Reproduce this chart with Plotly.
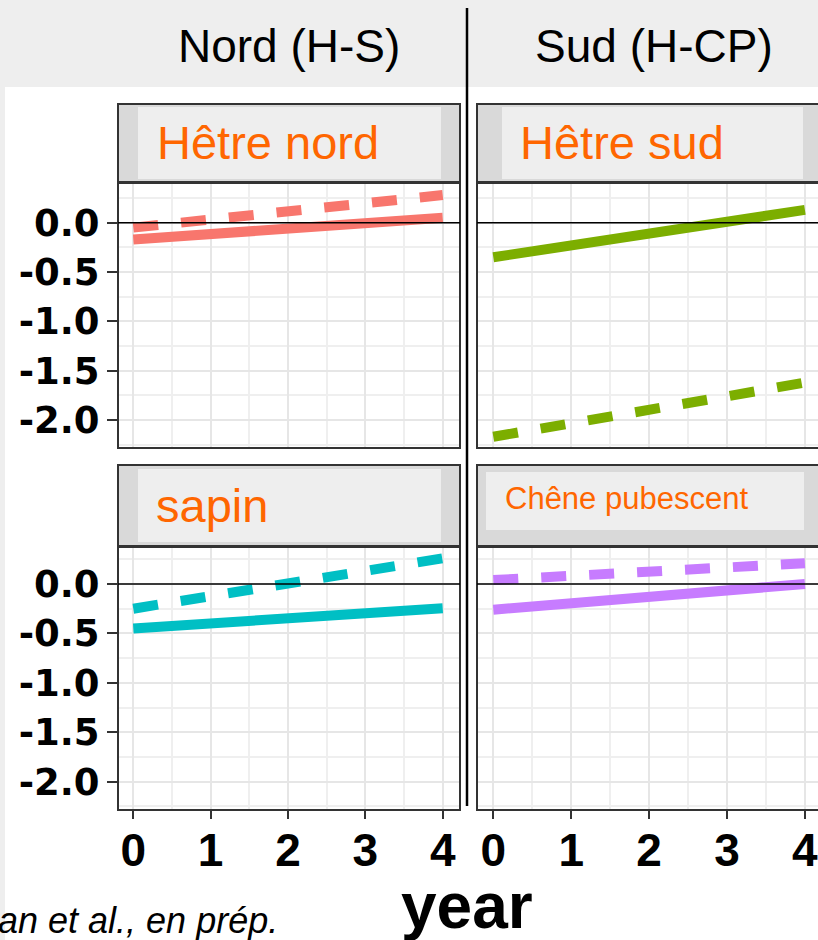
import plotly.graph_objects as go

# ---------------- data ----------------
years = [0, 1, 2, 3, 4]
hetre_nord_solid = [-0.17, -0.11, -0.06, 0.00, 0.05]
hetre_nord_dashed = [-0.05, 0.03, 0.11, 0.20, 0.28]
hetre_sud_solid = [-0.35, -0.23, -0.11, 0.01, 0.13]
hetre_sud_dashed = [-2.17, -2.04, -1.90, -1.76, -1.62]
sapin_solid = [-0.45, -0.40, -0.34, -0.29, -0.245]
sapin_dashed = [-0.25, -0.12, 0.00, 0.13, 0.26]
chene_solid = [-0.26, -0.195, -0.13, -0.065, 0.00]
chene_dashed = [0.04, 0.08, 0.12, 0.16, 0.21]

y_tickvals = [-2.0, -1.5, -1.0, -0.5, 0.0]
y_ticktext = ["-2.0", "-1.5", "-1.0", "-0.5", "0.0"]
x_tickvals = [0, 1, 2, 3, 4]
x_ticktext = ["0", "1", "2", "3", "4"]

panel_titles = ["Hêtre nord", "Hêtre sud", "sapin", "Chêne pubescent"]
group_titles = ["Nord (H-S)", "Sud (H-CP)"]
x_title = "year"
credit = "an et al., en prép."

colors = ["#F8766D", "#7CAE00", "#00BFC4", "#C77CFF"]

# ---------------- geometry helpers ----------------
W, H = 818, 940


def X(px):
    return px / W


def Y(py):
    return 1 - py / H


fig = go.Figure()

panels = [
    ("x", "y", hetre_nord_solid, hetre_nord_dashed, colors[0]),
    ("x2", "y2", hetre_sud_solid, hetre_sud_dashed, colors[1]),
    ("x3", "y3", sapin_solid, sapin_dashed, colors[2]),
    ("x4", "y4", chene_solid, chene_dashed, colors[3]),
]
for xa, ya, solid, dashed, col in panels:
    fig.add_trace(go.Scatter(x=years, y=solid, mode="lines", xaxis=xa, yaxis=ya,
                             line=dict(color=col, width=10), showlegend=False,
                             hoverinfo="skip"))
    fig.add_trace(go.Scatter(x=years, y=dashed, mode="lines", xaxis=xa, yaxis=ya,
                             line=dict(color=col, width=10, dash="25px,23px"),
                             showlegend=False, hoverinfo="skip"))

# pixel geometry of the panels
left_px = (118, 460)
right_px = (477, 818)
top_py = (183, 448)
bot_py = (547, 810)
left_x0, left_unit = 133.3, 77.35
right_x0, right_unit = 493.3, 77.9
top_y0, top_unit = 222.7, 98.65
bot_y0, bot_unit = 584.0, 98.85


def xrange_of(px, x0, unit):
    return [(px[0] - x0) / unit, (px[1] - x0) / unit]


def yrange_of(py, y0, unit):
    return [-(py[1] - y0) / unit, (y0 - py[0]) / unit]


grid_major = "#e6e6e6"
grid_minor = "#efefef"
tick_col = "#333333"

xfont = dict(family="Liberation Sans, Arial", size=46, color="black", weight="bold")
yfont = dict(family="DejaVu Sans", size=37, color="black", weight="bold")


def xaxis(px, x0, unit, show):
    return dict(domain=[X(px[0]), X(px[1])], range=xrange_of(px, x0, unit),
                tickvals=x_tickvals, ticktext=x_ticktext,
                showticklabels=show, ticks="outside" if show else "",
                ticklen=8, tickwidth=2, tickcolor=tick_col, tickfont=xfont,
                ticklabelstandoff=-8, ticklabeloverflow="allow",
                showgrid=True, gridcolor=grid_major, gridwidth=2,
                minor=dict(tickmode="linear", tick0=0.5, dtick=1, showgrid=True,
                           gridcolor=grid_minor, gridwidth=1.5),
                zeroline=False, showline=False, fixedrange=True)


def yaxis(py, y0, unit, show, anchor):
    return dict(domain=[Y(py[1]), Y(py[0])], range=yrange_of(py, y0, unit),
                tickvals=y_tickvals, ticktext=y_ticktext,
                showticklabels=show, ticks="outside" if show else "",
                ticklen=10, tickwidth=2, tickcolor=tick_col, tickfont=yfont,
                ticklabelstandoff=0, anchor=anchor,
                showgrid=True, gridcolor=grid_major, gridwidth=2,
                minor=dict(tickmode="linear", tick0=0.25, dtick=0.5, showgrid=True,
                           gridcolor=grid_minor, gridwidth=1.5),
                zeroline=False, showline=False, fixedrange=True)


fig.update_layout(
    width=W, height=H,
    margin=dict(l=0, r=0, t=0, b=0),
    paper_bgcolor="white", plot_bgcolor="white",
    xaxis=dict(xaxis(left_px, left_x0, left_unit, False), anchor="y"),
    yaxis=yaxis(top_py, top_y0, top_unit, True, "x"),
    xaxis2=dict(xaxis(right_px, right_x0, right_unit, False), anchor="y2"),
    yaxis2=yaxis(top_py, top_y0, top_unit, False, "x2"),
    xaxis3=dict(xaxis(left_px, left_x0, left_unit, True), anchor="y3"),
    yaxis3=yaxis(bot_py, bot_y0, bot_unit, True, "x3"),
    xaxis4=dict(xaxis(right_px, right_x0, right_unit, True), anchor="y4"),
    yaxis4=yaxis(bot_py, bot_y0, bot_unit, False, "x4"),
)

shapes = []
# slide background pieces
shapes.append(dict(type="rect", xref="paper", yref="paper", x0=0, x1=1, y0=Y(87), y1=1,
                   fillcolor="#eeeeee", line=dict(width=0), layer="below"))
shapes.append(dict(type="rect", xref="paper", yref="paper", x0=0, x1=X(5), y0=0, y1=Y(87),
                   fillcolor="#eeeeee", line=dict(width=0), layer="below"))

# strips (outer grey + lighter inner box)
strips = [
    ((118, 460), (104, 182), (138, 441), (107, 179)),
    ((477, 830), (104, 182), (502, 803), (107, 179)),
    ((118, 460), (465, 546), (138, 441), (469, 542)),
    ((477, 830), (465, 546), (486, 804), (472, 530)),
]
for (sx0, sx1), (sy0, sy1), (ix0, ix1), (iy0, iy1) in strips:
    shapes.append(dict(type="rect", xref="paper", yref="paper",
                       x0=X(sx0), x1=X(sx1), y0=Y(sy1), y1=Y(sy0),
                       fillcolor="#d9d9d9", line=dict(color="#333333", width=2)))
    shapes.append(dict(type="rect", xref="paper", yref="paper",
                       x0=X(ix0), x1=X(ix1), y0=Y(iy1), y1=Y(iy0),
                       fillcolor="#eeeeee", line=dict(width=0)))

# panel borders
for (px0, px1), (py0, py1) in [((118, 460), top_py), ((477, 830), top_py),
                               ((118, 460), bot_py), ((477, 830), bot_py)]:
    shapes.append(dict(type="rect", xref="paper", yref="paper",
                       x0=X(px0), x1=X(px1), y0=Y(py1), y1=Y(py0),
                       fillcolor="rgba(0,0,0,0)", line=dict(color="#333333", width=2)))

# zero reference lines
for xa, ya in [("x", "y"), ("x2", "y2"), ("x3", "y3"), ("x4", "y4")]:
    shapes.append(dict(type="line", xref=f"{xa} domain", yref=ya, x0=0, x1=1, y0=0, y1=0,
                       line=dict(color="black", width=1.6), layer="above"))

# vertical divider
shapes.append(dict(type="line", xref="paper", yref="paper", x0=X(467), x1=X(467),
                   y0=Y(806), y1=Y(8), line=dict(color="black", width=2.5)))

fig.update_layout(shapes=shapes)

ann = []
hfont = dict(family="Liberation Sans, Arial", size=46, color="black")
ann.append(dict(text=group_titles[0], x=X(289), y=Y(46), font=hfont))
ann.append(dict(text=group_titles[1], x=X(653.5), y=Y(46), font=hfont))

sfont = dict(family="Liberation Sans, Arial", size=47, color="#ff6600")
ann.append(dict(text=panel_titles[0], x=X(155), y=Y(143), xanchor="left", font=sfont))
ann.append(dict(text=panel_titles[1], x=X(518), y=Y(143), xanchor="left", font=sfont))
ann.append(dict(text=panel_titles[2], x=X(154), y=Y(505), xanchor="left", font=sfont))
ann.append(dict(text=panel_titles[3], x=X(503), y=Y(499), xanchor="left",
                font=dict(family="Liberation Sans, Arial", size=31, color="#ff6600")))

ann.append(dict(text=x_title, x=X(467), y=Y(906),
                font=dict(family="Liberation Sans, Arial", size=64, color="black",
                          weight="bold")))
ann.append(dict(text=credit, x=X(-4), y=Y(920), xanchor="left",
                font=dict(family="Liberation Sans, Arial", size=36, color="black",
                          style="italic")))

for a in ann:
    a.update(xref="paper", yref="paper", showarrow=False)
    a.setdefault("xanchor", "center")
    a.setdefault("yanchor", "middle")
fig.update_layout(annotations=ann)

fig.write_html(
    "out.html",
    config={"displayModeBar": False},
    post_script="document.body.style.margin='0';document.body.style.overflow='hidden';",
)
